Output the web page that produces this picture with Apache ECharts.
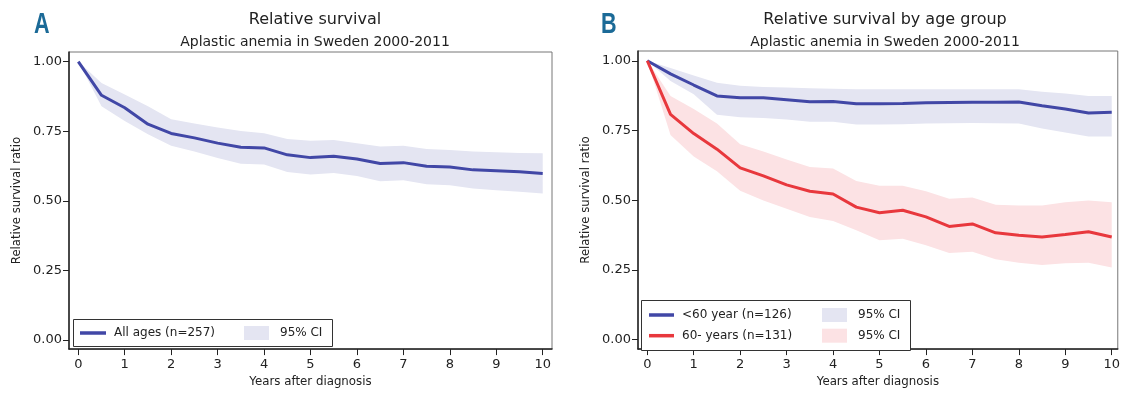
<!DOCTYPE html>
<html>
<head>
<meta charset="utf-8">
<script src="https://cdn.jsdelivr.net/npm/echarts@6/dist/echarts.min.js"></script>
<style>
html,body{margin:0;padding:0;background:#fff;}
#chart{width:1123px;height:393px;}
</style>
</head>
<body>
<div id="chart"></div>
<script>
// ---- data ----
const years = [0,0.5,1,1.5,2,2.5,3,3.5,4,4.5,5,5.5,6,6.5,7,7.5,8,8.5,9,9.5,10];
const xTicks = [0,1,2,3,4,5,6,7,8,9,10];
const yTicks = [0,0.25,0.5,0.75,1];

// Panel A: all ages
const allSurv = [1.00,0.879,0.834,0.775,0.742,0.726,0.707,0.692,0.690,0.665,0.655,0.660,0.650,0.634,0.637,0.624,0.621,0.611,0.608,0.604,0.598];
const allHi   = [1.00,0.923,0.882,0.840,0.793,0.778,0.763,0.751,0.743,0.722,0.716,0.718,0.707,0.695,0.698,0.686,0.682,0.677,0.674,0.672,0.671];
const allLo   = [1.00,0.840,0.787,0.739,0.698,0.677,0.654,0.633,0.630,0.603,0.594,0.600,0.589,0.570,0.574,0.559,0.556,0.544,0.538,0.532,0.526];

// Panel B: <60 years
const youngSurv = [1.00,0.953,0.913,0.874,0.867,0.867,0.860,0.853,0.854,0.846,0.846,0.847,0.849,0.850,0.851,0.851,0.852,0.839,0.827,0.813,0.815];
const youngHi   = [1.00,0.974,0.947,0.921,0.910,0.906,0.904,0.901,0.900,0.898,0.898,0.898,0.898,0.898,0.898,0.898,0.898,0.889,0.883,0.874,0.874];
const youngLo   = [1.00,0.927,0.880,0.806,0.797,0.795,0.789,0.781,0.781,0.771,0.771,0.772,0.775,0.776,0.777,0.776,0.775,0.757,0.743,0.728,0.728];

// Panel B: 60- years
const oldSurv = [1.00,0.808,0.739,0.683,0.616,0.587,0.555,0.532,0.522,0.475,0.455,0.464,0.440,0.406,0.415,0.383,0.374,0.368,0.377,0.387,0.368];
const oldHi   = [1.00,0.874,0.827,0.775,0.701,0.675,0.646,0.619,0.614,0.569,0.552,0.552,0.532,0.505,0.510,0.484,0.481,0.481,0.493,0.499,0.493];
const oldLo   = [1.00,0.734,0.657,0.604,0.534,0.499,0.469,0.440,0.425,0.392,0.356,0.362,0.338,0.311,0.315,0.288,0.276,0.268,0.274,0.276,0.259];

// ---- styles ----
const BLUE = '#4147a6', BLUE_FILL = '#e4e5f2';
const RED = '#e8383d', RED_FILL = '#fce2e4';
const FONT = 'DejaVu Sans';
const TXT = '#222';

const pairs = (ys) => years.map((x,i)=>[x, ys[i]]);

function band(name, gi, hi, lo, fill) {
  return {
    name, type:'custom', xAxisIndex:gi, yAxisIndex:gi, silent:true, z:1,
    itemStyle:{color:fill},
    data:[0],
    renderItem:(params, api) => {
      const up = years.map((x,i)=>api.coord([x, hi[i]]));
      const dn = years.map((x,i)=>api.coord([x, lo[i]])).reverse();
      return {type:'polygon', shape:{points: up.concat(dn)}, style:{fill, stroke:null}};
    }
  };
}
function line(name, gi, ys, color) {
  return { name, type:'line', xAxisIndex:gi, yAxisIndex:gi, data: pairs(ys),
    symbol:'none', itemStyle:{color}, lineStyle:{color, width:3}, z:3 };
}

function xAx(gi, min, max) {
  return { type:'value', gridIndex:gi, min, max,
    name:'Years after diagnosis', nameLocation:'middle', nameGap:25,
    nameTextStyle:{fontFamily:FONT, fontSize:11.8, color:TXT},
    axisLine:{show:true, onZero:false, lineStyle:{color:'#222', width:1.5}},
    axisTick:{show:true, length:6, customValues:xTicks, lineStyle:{color:'#222'}},
    axisLabel:{customValues:xTicks, fontFamily:FONT, fontSize:13, color:TXT, margin:9},
    splitLine:{show:false} };
}
function yAx(gi, min, max) {
  return { type:'value', gridIndex:gi, min, max,
    name:'Relative survival ratio', nameLocation:'middle', nameGap:46,
    nameTextStyle:{fontFamily:FONT, fontSize:11.7, color:TXT},
    axisLine:{show:true, onZero:false, lineStyle:{color:'#222', width:1.5}},
    axisTick:{show:true, length:6, customValues:yTicks, lineStyle:{color:'#222'}},
    axisLabel:{customValues:yTicks, fontFamily:FONT, fontSize:13, color:TXT, margin:7,
      formatter:(v)=>v.toFixed(2)},
    splitLine:{show:false} };
}

const legendText = {fontFamily:FONT, fontSize:12, color:TXT, lineHeight:14, padding:[0,0,0,3]};
const fmtCI = (n) => n.startsWith('ci') ? '95% CI' : n;

const letter = (t, x) => ({type:'text', left:x, top:10, scaleX:0.72, z:10,
  style:{text:t, font:'bold 30px "Liberation Sans"', fill:'#1b6a97'}});

const option = {
  animation:false,
  backgroundColor:'#fff',
  title:[
    {text:'Relative survival', subtext:'Aplastic anemia in Sweden 2000-2011',
      left:310, textAlign:'center', top:7, itemGap:7,
      textStyle:{fontFamily:FONT, fontWeight:'normal', fontSize:16, color:'#222'},
      subtextStyle:{fontFamily:FONT, fontSize:14, color:'#222'}},
    {text:'Relative survival by age group', subtext:'Aplastic anemia in Sweden 2000-2011',
      left:880, textAlign:'center', top:7, itemGap:7,
      textStyle:{fontFamily:FONT, fontWeight:'normal', fontSize:16, color:'#222'},
      subtextStyle:{fontFamily:FONT, fontSize:14, color:'#222'}}
  ],
  grid:[
    {left:69, top:52, width:483, height:300, show:true, borderColor:'#777', borderWidth:1, backgroundColor:'transparent'},
    {left:638, top:51, width:484, height:302, show:true, borderColor:'#777', borderWidth:1, backgroundColor:'transparent'}
  ],
  xAxis:[ xAx(0, -0.2, 10.2), xAx(1, -0.2, 10.13) ],
  yAxis:[ yAx(0, -0.033, 1.0345), yAx(1, -0.034, 1.035) ],
  graphic:[
    letter('A', 34), letter('B', 601),
    {type:'rect', z:5, shape:{x:73.5, y:319.5, width:259, height:27}, style:{fill:'#fff', stroke:'#333', lineWidth:1}},
    {type:'rect', z:5, shape:{x:641.5, y:300.5, width:269, height:50}, style:{fill:'#fff', stroke:'#333', lineWidth:1}}
  ],
  legend:[
    {left:80, top:326, padding:0, z:10, selectedMode:false, itemWidth:26, itemHeight:3.5, icon:'rect',
      data:[{name:'All ages (n=257)'}], textStyle:legendText},
    {left:244, top:326, padding:0, z:10, selectedMode:false, itemWidth:25, itemHeight:14, icon:'rect',
      data:[{name:'ci_all'}], formatter:fmtCI, textStyle:{...legendText, padding:[0,0,0,6]}},
    {left:649, top:308, padding:0, z:10, orient:'vertical', itemGap:6.7, selectedMode:false, itemWidth:25, itemHeight:3.5, icon:'rect',
      data:[{name:'<60 year (n=126)'},{name:'60- years (n=131)'}], textStyle:legendText},
    {left:822, top:308, padding:0, z:10, orient:'vertical', itemGap:6.7, selectedMode:false, itemWidth:25, itemHeight:14, icon:'rect',
      data:[{name:'ci_young'},{name:'ci_old'}], formatter:fmtCI, textStyle:{...legendText, padding:[0,0,0,6]}}
  ],
  series:[
    band('ci_all', 0, allHi, allLo, BLUE_FILL),
    line('All ages (n=257)', 0, allSurv, BLUE),
    band('ci_young', 1, youngHi, youngLo, BLUE_FILL),
    band('ci_old', 1, oldHi, oldLo, RED_FILL),
    line('<60 year (n=126)', 1, youngSurv, BLUE),
    line('60- years (n=131)', 1, oldSurv, RED)
  ]
};

const chart = echarts.init(document.getElementById('chart'), null, {renderer:'canvas'});
chart.setOption(option);
</script>
</body>
</html>
